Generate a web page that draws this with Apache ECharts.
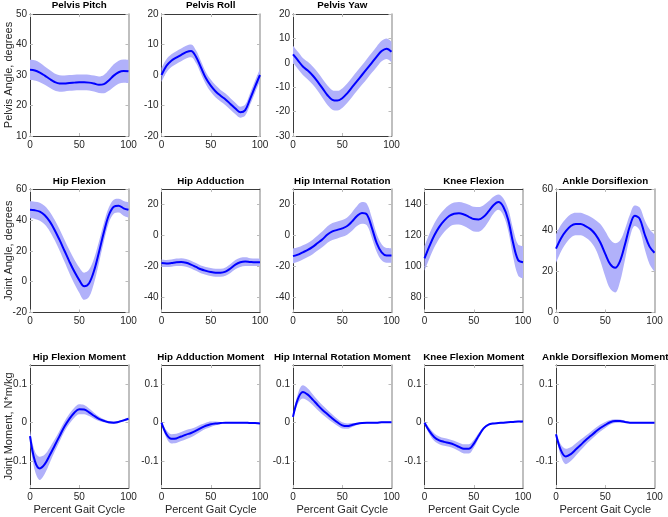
<!DOCTYPE html>
<html><head><meta charset="utf-8">
<script src="https://cdn.jsdelivr.net/npm/echarts@6/dist/echarts.min.js"></script>
<style>html,body{margin:0;padding:0;background:#fff}#c{width:668px;height:517px}</style>
</head><body><div id="c"></div>
<script>
const X = [0,5,10,15,20,25,30,35,40,45,50,55,60,65,70,75,80,85,90,95,100];
const rowLabels = ['Pelvis Angle, degrees','Joint Angle, degrees','Joint Moment, N*m/kg'];
const xLabel = 'Percent Gait Cycle';

const pitchMean = [31.7,31.5,30.8,29.8,28.7,27.7,27.2,27.2,27.4,27.5,27.6,27.6,27.5,27.2,26.8,27.0,28.2,29.8,30.9,31.3,31.2];
const pitchSd   = [3.3,3.3,3.2,3.0,2.9,2.8,2.7,2.6,2.6,2.6,2.6,2.6,2.6,2.6,2.7,3.0,3.4,3.7,3.8,3.8,3.8];
const rollMean  = [0,3.0,4.7,5.7,6.6,7.5,7.9,6.0,2.5,-1.0,-3.5,-5.4,-6.8,-8.0,-9.5,-11.0,-12.2,-11.5,-7.8,-3.8,0];
const rollSd    = [2.3,2.2,2.1,2.1,2.1,2.1,2.1,2.1,2.1,2.0,2.0,2.0,1.9,1.9,1.9,1.9,1.8,1.8,1.9,2.0,2.0];
const yawMean   = [3.5,1.0,-1.5,-3.2,-5.2,-7.7,-10.5,-13.3,-15.2,-15.5,-14.5,-12.5,-10.0,-7.5,-5.0,-2.5,0,2.5,4.8,5.8,4.5];
const yawSd     = [3.5,3.5,3.5,3.6,3.7,3.8,3.9,4.0,4.0,4.0,4.0,4.0,4.0,4.0,4.0,4.1,4.1,4.2,4.2,4.2,4.2];
const hipFlexMean = [46.5,46.2,45.3,43,39,33.5,27,20,13,6.5,1,-3.0,-1.0,7,19,32,43,48.5,49.2,47.5,46.5];
const hipFlexSd   = [5.5,5.6,5.8,6.0,6.3,6.6,6.9,7.2,7.5,7.8,8.2,8.8,8.8,8.0,7.0,6.0,5.0,4.6,4.5,4.8,5.0];
const hipAddMean  = [-18,-18.3,-18,-17.5,-17.3,-17.8,-19,-20.5,-22,-23,-23.8,-24.2,-24.2,-23.5,-21.5,-19,-17.5,-17,-17.3,-17.5,-17.5];
const hipAddSd    = [2.3,2.3,2.3,2.4,2.5,2.5,2.5,2.5,2.5,2.5,2.6,2.6,2.6,2.7,2.9,3.0,3.0,2.8,2.5,2.4,2.3];
const hipRotMean  = [-13.5,-12.5,-11,-9.5,-7.5,-5,-2.5,0.5,2.5,3.5,4.5,6,9,12.5,14.5,13.5,5,-5,-11,-13,-13];
const hipRotSd    = [4.8,4.7,4.6,4.6,4.7,4.9,5.1,5.3,5.5,5.5,5.5,5.6,6.0,6.5,7.0,7.0,6.5,5.8,5.2,4.8,4.7];
const kneeMean    = [105,113,120,125.5,129.5,132.5,134,134.3,133.5,132,130.5,130.3,132,135.5,139.5,141.5,138.5,130,115,104,102.5];
const kneeSd      = [8,8,7.8,7.5,7.3,7.2,7.2,7.3,7.5,7.8,8,8,7.5,6.5,5.5,5,5.5,7,9,10,10.5];
const ankleMean   = [31,36,39.5,42,43,43,42,40.5,38,34,28.5,23.5,21.7,25,33,42,47,45.5,38,32,29];
const ankleSd     = [7,6.5,6,5.7,5.5,5.5,5.6,6,7,9,11,12,12,10,7.5,5.5,5,5.5,7,8.5,9];
const hipFlexMomMean = [-0.035,-0.1,-0.119,-0.108,-0.085,-0.06,-0.035,-0.01,0.01,0.026,0.035,0.034,0.027,0.018,0.01,0.005,0.001,0.0,0.002,0.006,0.01];
const hipFlexMomSd   = [0.015,0.025,0.03,0.025,0.02,0.016,0.014,0.013,0.013,0.013,0.013,0.012,0.01,0.008,0.006,0.004,0.003,0.003,0.003,0.003,0.003];
const hipAddMomMean  = [0,-0.03,-0.042,-0.041,-0.036,-0.031,-0.027,-0.021,-0.014,-0.008,-0.004,-0.002,-0.001,0,0,0,0,0,-0.001,-0.001,-0.002];
const hipAddMomSd    = [0.003,0.01,0.012,0.012,0.012,0.012,0.011,0.01,0.009,0.008,0.007,0.005,0.003,0.002,0.002,0.002,0.002,0.002,0.002,0.002,0.002];
const hipRotMomMean  = [0.015,0.062,0.08,0.073,0.06,0.046,0.033,0.022,0.011,0.001,-0.007,-0.009,-0.006,-0.003,-0.001,0,0,0,0.001,0.001,0.001];
const hipRotMomSd    = [0.004,0.013,0.017,0.016,0.014,0.013,0.012,0.011,0.01,0.009,0.008,0.007,0.005,0.003,0.002,0.002,0.002,0.002,0.002,0.002,0.002];
const kneeMomMean    = [0,-0.022,-0.038,-0.046,-0.05,-0.053,-0.057,-0.063,-0.068,-0.068,-0.055,-0.034,-0.015,-0.005,-0.002,-0.001,0,0.001,0.002,0.003,0.003];
const kneeMomSd      = [0.004,0.008,0.01,0.01,0.01,0.01,0.01,0.011,0.012,0.012,0.01,0.007,0.004,0.002,0.002,0.002,0.002,0.002,0.002,0.002,0.002];
const ankleMomMean   = [-0.03,-0.072,-0.088,-0.082,-0.07,-0.058,-0.046,-0.035,-0.024,-0.014,-0.006,0.001,0.004,0.004,0.002,0.0,0,0,0,0,0];
const ankleMomSd     = [0.005,0.015,0.02,0.018,0.016,0.014,0.012,0.011,0.01,0.009,0.008,0.006,0.005,0.004,0.003,0.002,0.002,0.002,0.002,0.002,0.002];

const momTicks = [-0.1,0,0.1];
const panels = [
  {t:'Pelvis Pitch', r:0,c:0, min:10, max:50, ticks:[10,20,30,40,50], m:pitchMean, s:pitchSd},
  {t:'Pelvis Roll', r:0,c:1, min:-20, max:20, ticks:[-20,-10,0,10,20], m:rollMean, s:rollSd},
  {t:'Pelvis Yaw', r:0,c:2, min:-30, max:20, ticks:[-30,-20,-10,0,10,20], m:yawMean, s:yawSd},
  {t:'Hip Flexion', r:1,c:0, min:-20, max:60, ticks:[-20,0,20,40,60], m:hipFlexMean, s:hipFlexSd},
  {t:'Hip Adduction', r:1,c:1, min:-50, max:30, ticks:[-40,-20,0,20], m:hipAddMean, s:hipAddSd},
  {t:'Hip Internal Rotation', r:1,c:2, min:-50, max:30, ticks:[-40,-20,0,20], m:hipRotMean, s:hipRotSd},
  {t:'Knee Flexion', r:1,c:3, min:70, max:150, ticks:[80,100,120,140], m:kneeMean, s:kneeSd},
  {t:'Ankle Dorsiflexion', r:1,c:4, min:0, max:60, ticks:[0,20,40,60], m:ankleMean, s:ankleSd},
  {t:'Hip Flexion Moment', r:2,c:0, min:-0.17, max:0.15, ticks:momTicks, m:hipFlexMomMean, s:hipFlexMomSd},
  {t:'Hip Adduction Moment', r:2,c:1, min:-0.17, max:0.15, ticks:momTicks, m:hipAddMomMean, s:hipAddMomSd},
  {t:'Hip Internal Rotation Moment', r:2,c:2, min:-0.17, max:0.15, ticks:momTicks, m:hipRotMomMean, s:hipRotMomSd},
  {t:'Knee Flexion Moment', r:2,c:3, min:-0.17, max:0.15, ticks:momTicks, m:kneeMomMean, s:kneeMomSd},
  {t:'Ankle Dorsiflexion Moment', r:2,c:4, min:-0.17, max:0.15, ticks:momTicks, m:ankleMomMean, s:ankleMomSd}
];

const colLeft = [30, 161.5, 293, 424.5, 556];
const colW = 98.5;
const rowTop = [14, 189, 365];
const rowH = [122, 123.5, 123];
const titleTop = [0.5, 176, 352];
const FONT = 'Liberation Sans, Arial, Helvetica, sans-serif';
const TXT = '#262626';
const AX = '#3a3a3a';
const BAND = '#b1b1fa';
const LINE = '#0000ff';
const TICK_EVERY = 9; // category ticks at 0, 50, 100

const grid = [], xAxis = [], yAxis = [], series = [], title = [];
panels.forEach((p, i) => {
  const left = colLeft[p.c], top = rowTop[p.r], h = rowH[p.r];
  grid.push({left: left, top: top, width: colW, height: h, containLabel: false});
  title.push({text: p.t, left: left + colW/2, top: titleTop[p.r], textAlign: 'center', padding: 0,
    textStyle: {fontFamily: FONT, fontSize: 9.8, fontWeight: 'bold', color: '#000'}});
  const isBottom = p.r === 2;
  xAxis.push({type:'category', gridIndex:i, data:X, boundaryGap:false, position:'bottom',
    axisLine:{show:true, onZero:false, lineStyle:{color:AX, width:1}},
    axisTick:{show:true, inside:true, length:3, interval:TICK_EVERY, lineStyle:{color:'#bbb'}},
    axisLabel:{show:true, interval:TICK_EVERY, margin:4, fontFamily:FONT, fontSize:10, color:TXT},
    splitLine:{show:false},
    name: isBottom ? xLabel : '', nameLocation:'middle', nameGap:16, nameMoveOverlap:false,
    nameTextStyle:{fontFamily:FONT, fontSize:11, color:TXT}});
  xAxis.push({type:'category', gridIndex:i, data:X, boundaryGap:false, position:'top',
    axisLine:{show:true, onZero:false, lineStyle:{color:AX, width:1}},
    axisTick:{show:true, inside:true, length:3, interval:TICK_EVERY, lineStyle:{color:'#bbb'}},
    axisLabel:{show:false}, splitLine:{show:false}});
  yAxis.push({type:'value', gridIndex:i, min:p.min, max:p.max, position:'left',
    axisLine:{show:true, onZero:false, lineStyle:{color:AX, width:1}},
    axisTick:{show:true, inside:true, length:3, customValues:p.ticks, lineStyle:{color:'#bbb'}},
    axisLabel:{show:true, customValues:p.ticks, margin:3, fontFamily:FONT, fontSize:10, color:TXT},
    splitLine:{show:false},
    name: p.c === 0 ? rowLabels[p.r] : '', nameLocation:'middle', nameGap:15.5, nameMoveOverlap:false,
    nameTextStyle:{fontFamily:FONT, fontSize:11, color:TXT}});
  yAxis.push({type:'value', gridIndex:i, min:p.min, max:p.max, position:'right',
    axisLine:{show:true, onZero:false, lineStyle:{color:'#aaaaaa', width:1.5}},
    axisTick:{show:true, inside:true, length:3, customValues:p.ticks, lineStyle:{color:'#bbb'}},
    axisLabel:{show:false}, splitLine:{show:false}});
  const xi = 2*i, yi = 2*i;
  const lower = p.m.map((v,k) => v - p.s[k]);
  const width = p.s.map(s => 2*s);
  series.push({type:'line', xAxisIndex:xi, yAxisIndex:yi, data:lower, stack:'b'+i, stackStrategy:'all',
    smooth:0.35, showSymbol:false, symbol:'none', lineStyle:{opacity:0}, silent:true, z:1});
  series.push({type:'line', xAxisIndex:xi, yAxisIndex:yi, data:width, stack:'b'+i, stackStrategy:'all',
    smooth:0.35, showSymbol:false, symbol:'none', lineStyle:{opacity:0}, areaStyle:{color:BAND, opacity:1}, silent:true, z:1});
  series.push({type:'line', xAxisIndex:xi, yAxisIndex:yi, data:p.m,
    smooth:0.35, showSymbol:false, symbol:'none', lineStyle:{color:LINE, width:2}, silent:true, z:3});
});

const chart = echarts.init(document.getElementById('c'), null, {renderer:'canvas'});
chart.setOption({animation:false, backgroundColor:'#fff', title, grid, xAxis, yAxis, series});
</script>
</body></html>
